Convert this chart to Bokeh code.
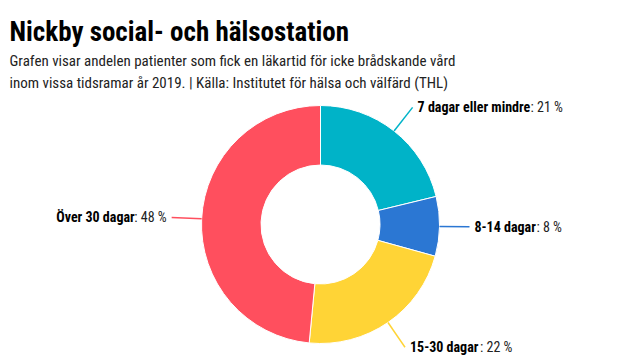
import math
from bokeh.plotting import figure
from bokeh.models import ColumnDataSource
from bokeh.core.properties import value
from bokeh.embed import file_html
from bokeh.resources import INLINE

# ---- data ----
categories = ["7 dagar eller mindre", "8-14 dagar", "15-30 dagar", "Över 30 dagar"]
values = [21, 8, 22, 48]
colors = ["#00b3c8", "#2b77d3", "#ffd436", "#ff4f5e"]
title_text = "Nickby social- och hälsostation"
subtitle_lines = [
    "Grafen visar andelen patienter som fick en läkartid för icke brådskande vård",
    "inom vissa tidsramar år 2019. | Källa: Institutet för hälsa och välfärd (THL)",
]
# estimated rendered width of the bold category part (px), for placing ": nn %"
bold_widths = [113, 62, 70, 88]
rest_width_left = 32

FONT = "Roboto Condensed"
W, H = 640, 360
cx, cy = 320, 136
r_out, r_in = 119, 59.5
conn_len = 30
gap = 5

p = figure(width=W, height=H, x_range=(0, W), y_range=(0, H),
           output_backend="svg", toolbar_location=None, min_border=0)
p.axis.visible = False
p.grid.visible = False
p.outline_line_color = None
p.background_fill_color = "white"

total = sum(values)
starts, ends, mids = [], [], []
acc = 0.0
for v in values:
    a0 = acc / total * 2 * math.pi
    acc += v
    a1 = acc / total * 2 * math.pi
    starts.append(math.pi / 2 - a0)
    ends.append(math.pi / 2 - a1)
    mids.append((a0 + a1) / 2)

src = ColumnDataSource(dict(start=starts, end=ends, color=colors))
p.annular_wedge(x=cx, y=cy, inner_radius=r_in, outer_radius=r_out,
                start_angle="start", end_angle="end", direction="clock",
                fill_color="color", line_color="white", line_width=1, source=src)

for cat, v, col, m, bw in zip(categories, values, colors, mids, bold_widths):
    sx, sy = math.sin(m), math.cos(m)
    x0, y0 = cx + r_out * sx, cy + r_out * sy
    x1, y1 = cx + (r_out + conn_len) * sx, cy + (r_out + conn_len) * sy
    p.line([x0, x1], [y0, y1], line_color=col, line_width=1.5)
    rest = ": %d %%" % v
    if sx >= 0:
        lx = x1 + gap
        p.text(x=[lx], y=[y1], text=[cat], text_font=value(FONT), text_font_style="bold",
               text_font_size="14px", text_color="#000000", text_baseline="middle", text_align="left")
        p.text(x=[lx + bw], y=[y1], text=[rest], text_font=value(FONT),
               text_font_size="14px", text_color="#222222", text_baseline="middle", text_align="left")
    else:
        rx = x1 - gap
        p.text(x=[rx], y=[y1], text=[rest], text_font=value(FONT),
               text_font_size="14px", text_color="#222222", text_baseline="middle", text_align="right")
        p.text(x=[rx - rest_width_left], y=[y1], text=[cat], text_font=value(FONT), text_font_style="bold",
               text_font_size="14px", text_color="#000000", text_baseline="middle", text_align="right")

p.text(x=[9], y=[329], text=[title_text], text_font=value(FONT), text_font_style="bold",
       text_font_size="27px", text_color="#000000", text_baseline="alphabetic")
p.text(x=[9, 9], y=[300, 277.5], text=subtitle_lines, text_font=value(FONT),
       text_font_size="15px", text_color="#222222", text_baseline="alphabetic")

open("out.html", "w").write(file_html(p, INLINE))
